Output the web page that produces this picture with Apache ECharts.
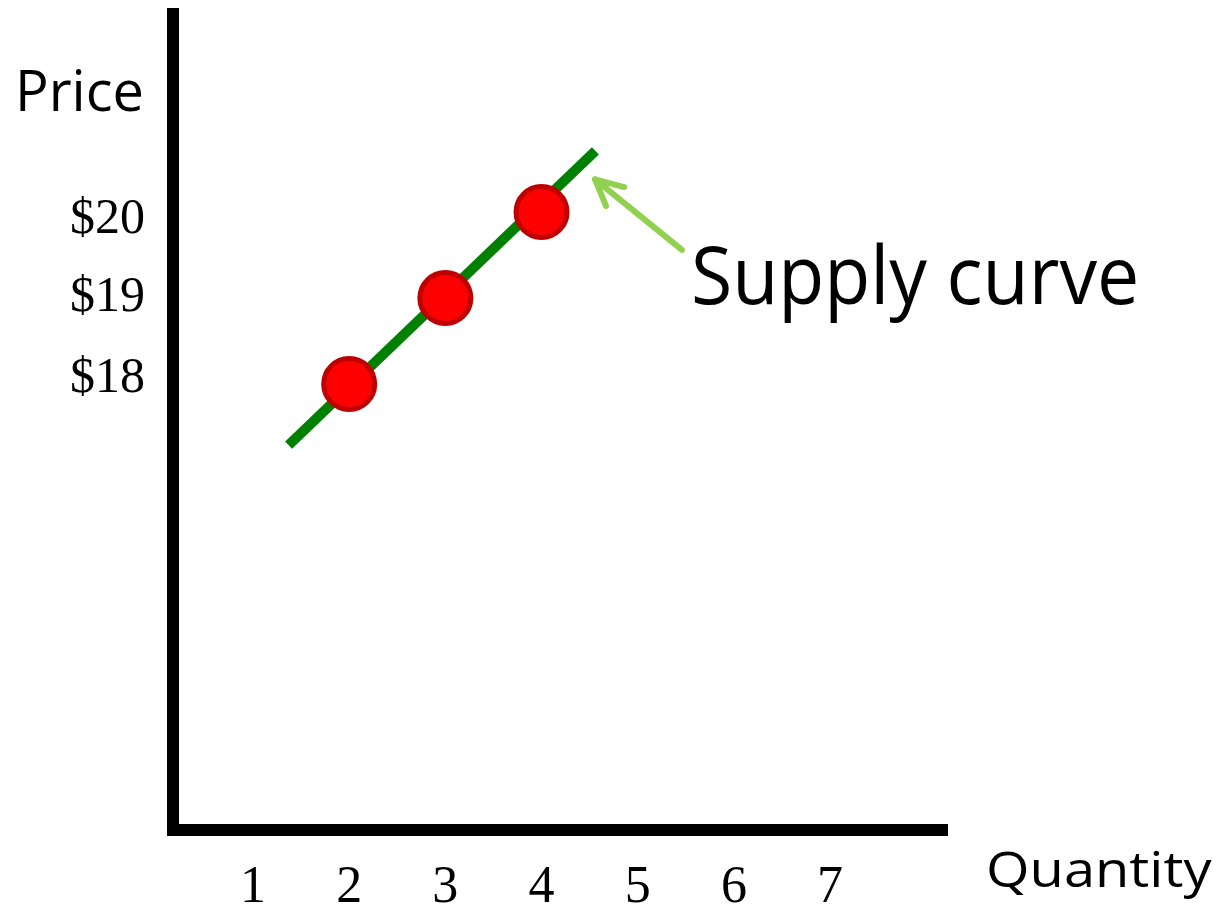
<!DOCTYPE html>
<html>
<head>
<meta charset="utf-8">
<title>Supply curve</title>
<script src="https://cdn.jsdelivr.net/npm/echarts@6/dist/echarts.min.js"></script>
<style>
  html, body { margin: 0; padding: 0; background: #fff; }
  #chart { width: 1222px; height: 910px; }
</style>
</head>
<body>
<div id="chart"></div>
<script>
// supply schedule points
var quantities = [2, 3, 4];
var prices = [18, 19, 20];
// the green supply line, drawn a bit past the points
var curveQ = [1.37, 4.56];
var curveP = [17.29, 20.71];
// tick labels
var xTicks = [1, 2, 3, 4, 5, 6, 7];
var yTicks = [18, 19, 20];
// annotation arrow: tail, tip, wing ends
var arrowQ = [5.46, 4.556, 4.86, 4.67];
var arrowP = [19.56, 20.38, 20.29, 20.07];

var chart = echarts.init(document.getElementById('chart'), null, { renderer: 'canvas' });

function pairs(xs, ys){
  var out = [];
  for (var i = 0; i < xs.length; i++) { out.push([xs[i], ys[i]]); }
  return out;
}

var serif = "'Liberation Serif', 'Times New Roman', serif";
var sans = "'Open Sans', 'Noto Sans', sans-serif";

var option = {
  animation: false,
  backgroundColor: '#ffffff',
  // fixed plot box, don't let v6 shrink it for the big labels
  grid: { left: 173, right: 280, top: 14, bottom: 80, outerBoundsMode: 'none', containLabel: false },
  xAxis: {
    type: 'value',
    min: 0.168,
    max: 8.164,
    splitLine: { show: false },
    axisTick: { show: false },
    axisLine: { show: true, onZero: false, lineStyle: { color: '#000', width: 12, cap: 'square' } },
    axisLabel: {
      customValues: xTicks,
      margin: 32,
      color: '#000',
      fontFamily: serif,
      fontSize: 52
    }
  },
  yAxis: {
    type: 'value',
    min: 12.814,
    max: 22.302,
    splitLine: { show: false },
    axisTick: { show: false },
    axisLine: { show: true, onZero: false, lineStyle: { color: '#000', width: 12, cap: 'square' } },
    axisLabel: {
      customValues: yTicks,
      margin: 28,
      color: '#000',
      fontFamily: serif,
      fontSize: 50,
      // labels in the slide sit a little closer together than the points
      formatter: function (v) { return '{p' + v + '|$' + v + '}'; },
      rich: {
        p20: { fontFamily: serif, fontSize: 50, padding: [16, 0, 0, 0] },
        p19: { fontFamily: serif, fontSize: 50 },
        p18: { fontFamily: serif, fontSize: 50, padding: [0, 0, 10, 0] }
      }
    }
  },
  series: [
    {
      type: 'line',
      data: pairs(curveQ, curveP),
      symbol: 'none',
      lineStyle: { color: '#008000', width: 10 },
      z: 2
    },
    {
      type: 'scatter',
      data: pairs(quantities, prices),
      symbol: 'circle',
      symbolSize: 51,
      itemStyle: { color: '#FF0000', borderColor: '#C00000', borderWidth: 5, opacity: 1 },
      z: 3
    },
    {
      // shaft and first wing
      type: 'line',
      data: pairs(arrowQ.slice(0, 3), arrowP.slice(0, 3)),
      symbol: 'none',
      lineStyle: { color: '#92D050', width: 6, cap: 'round', join: 'round' },
      z: 2
    },
    {
      // second wing
      type: 'line',
      data: pairs([arrowQ[1], arrowQ[3]], [arrowP[1], arrowP[3]]),
      symbol: 'none',
      lineStyle: { color: '#92D050', width: 6, cap: 'round', join: 'round' },
      z: 2
    }
  ],
  graphic: [
    {
      type: 'text', x: 15, y: 95,
      style: { text: 'Price', fill: '#000', fontFamily: sans, fontSize: 56, align: 'left', verticalAlign: 'middle' }
    },
    {
      type: 'text', x: 986, y: 873, scaleX: 1.12,
      style: { text: 'Quantity', fill: '#000', fontFamily: sans, fontSize: 50, align: 'left', verticalAlign: 'middle' }
    },
    {
      type: 'text', x: 691, y: 281, scaleX: 0.94,
      style: { text: 'Supply curve', fill: '#000', fontFamily: sans, fontSize: 80, align: 'left', verticalAlign: 'middle' }
    }
  ]
};

chart.setOption(option);
</script>
</body>
</html>
